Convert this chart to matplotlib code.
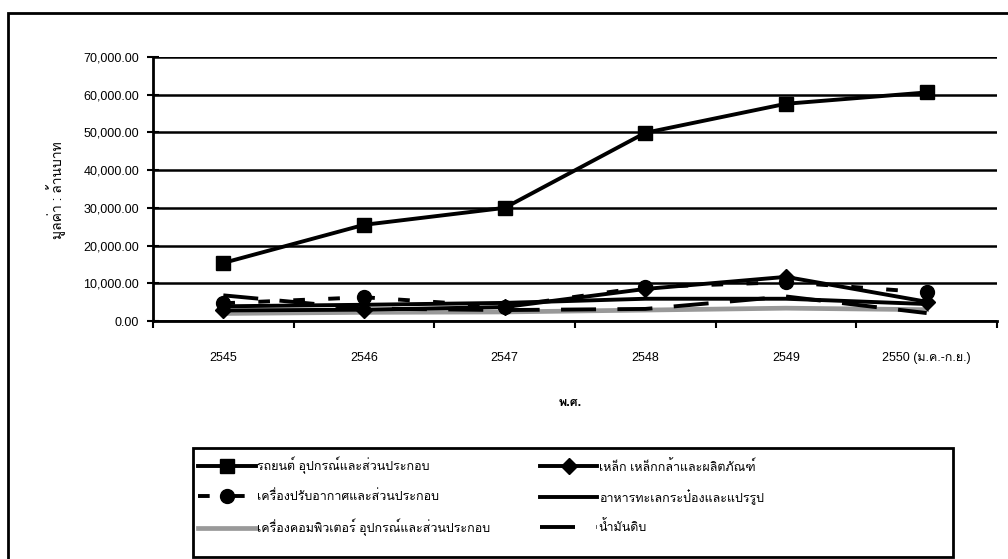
import numpy as np
import matplotlib.pyplot as plt
from matplotlib import font_manager
from matplotlib.ft2font import FT2Font
from matplotlib.lines import Line2D
from matplotlib.patches import Rectangle

years = ["2545", "2546", "2547", "2548", "2549", "2550 (ม.ค.-ก.ย.)"]
cars = [15400, 25500, 30000, 49900, 57600, 60600]
steel = [2800, 3000, 3700, 8500, 11700, 5100]
aircon = [4700, 6300, 3800, 9000, 10300, 7600]
food = [3900, 4300, 4800, 5900, 5900, 4500]
computer = [2000, 2300, 2400, 2900, 3400, 3000]
crude = [6800, 3300, 2900, 3200, 6500, 2100]

names = ["รถยนต์ อุปกรณ์และส่วนประกอบ", "เหล็ก เหล็กกล้าและผลิตภัณฑ์",
         "เครื่องปรับอากาศและส่วนประกอบ", "อาหารทะเลกระป๋องและแปรรูป",
         "เครื่องคอมพิวเตอร์ อุปกรณ์และส่วนประกอบ", "น้ำมันดิบ"]

# find a font that has Thai glyphs
thai = []
for f in font_manager.fontManager.ttflist:
    try:
        if 0x0E01 in FT2Font(f.fname).get_charmap() and f.name not in thai:
            thai.append(f.name)
    except Exception:
        pass
plt.rcParams['font.family'] = ['Liberation Sans'] + thai + ['DejaVu Sans']

fig = plt.figure(figsize=(10.08, 5.59), dpi=100)
ax = fig.add_axes([153/1008, 1-321/559, 844/1008, 264/559])

x = np.arange(len(years))
lw = 2.8
ax.plot(x, computer, color="#999999", lw=3.4, zorder=3)
ax.plot(x, crude, color="black", lw=lw, dashes=(9, 5.5), zorder=4)
ax.plot(x, food, color="black", lw=lw, zorder=4)
ax.plot(x, aircon, color="black", lw=lw, dashes=(3, 6), marker="o", ms=10,
        zorder=5)
ax.plot(x, steel, color="black", lw=lw, marker="D", ms=8, zorder=5)
ax.plot(x, cars, color="black", lw=lw, marker="s", ms=10, zorder=5)

ax.set_xlim(-0.5, 5.5)
ax.set_ylim(0, 70000)
ax.set_yticks(np.arange(0, 70001, 10000))
ax.set_yticklabels(["{:,.2f}".format(v) for v in range(0, 70001, 10000)],
                   fontsize=9)
ax.set_xticks(np.arange(-0.5, 5.6, 1))
ax.set_xticklabels([])
ax.set_xticks(x, minor=True)
ax.set_xticklabels(years, minor=True, fontsize=9)
ax.tick_params(axis="x", which="major", direction="out", length=5, width=1.5)
ax.tick_params(axis="x", which="minor", length=0, pad=22)
ax.tick_params(axis="y", direction="inout", length=8, width=1.5, pad=6)
ax.grid(axis="y", color="black", lw=1.8)
ax.set_axisbelow(True)
for s in ["top", "right"]:
    ax.spines[s].set_visible(False)
for s in ["left", "bottom"]:
    ax.spines[s].set_linewidth(2)

fig.text(570/1008, 1-403/559, "พ.ศ.", fontsize=9, fontweight="bold",
         ha="center", va="center")
fig.text(56/1008, 1-190/559, "มูลค่า : ล้านบาท", fontsize=10, rotation=90,
         ha="center", va="center")

# outer frame and legend box
fig.patches.append(Rectangle((8/1008, -0.01), 1.2, 1-13/559+0.01,
                             transform=fig.transFigure, fill=False,
                             lw=2, edgecolor="black"))
fig.patches.append(Rectangle((193/1008, 1-557/559), 760/1008, 109/559,
                             transform=fig.transFigure, fill=False,
                             lw=2, edgecolor="black"))

handles = [
    Line2D([], [], color="black", lw=lw, marker="s", ms=10),
    Line2D([], [], color="black", lw=lw, marker="D", ms=8),
    Line2D([], [], color="black", lw=lw, dashes=(3, 6), marker="o", ms=10),
    Line2D([], [], color="black", lw=lw),
    Line2D([], [], color="#999999", lw=3.4),
    Line2D([], [], color="black", lw=lw, dashes=(9, 5.5)),
]
order = [0, 2, 4, 1, 3, 5]
leg = fig.legend([handles[i] for i in order], [names[i] for i in order],
                 ncol=2, loc="upper left",
                 bbox_to_anchor=(198/1008, 1-457/559),
                 fontsize=9, frameon=False, handlelength=4.6,
                 handletextpad=0.1, columnspacing=4.0,
                 labelspacing=1.25, borderpad=0, borderaxespad=0)

fig.savefig("out.png", dpi=100)
